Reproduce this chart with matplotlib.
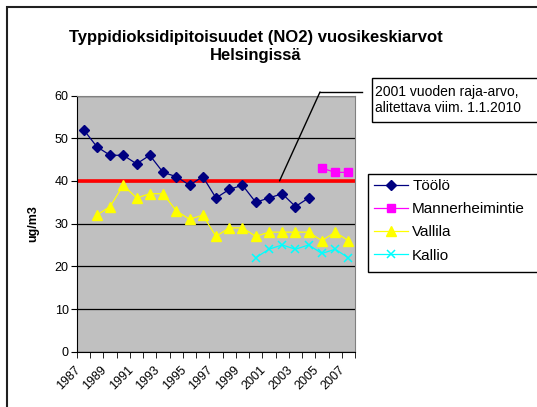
import numpy as np
import matplotlib
matplotlib.use('Agg')
import matplotlib.pyplot as plt
import matplotlib.transforms as mtransforms
from matplotlib.patches import Rectangle
from matplotlib.lines import Line2D

plt.rcParams['font.family'] = ['Liberation Sans', 'DejaVu Sans']

# --- data ---
years = list(range(1987, 2008))
toolo = [52, 48, 46, 46, 44, 46, 42, 41, 39, 41, 36, 38, 39, 35, 36, 37, 34, 36,
         np.nan, np.nan, np.nan]
mannerheimintie = [np.nan] * 18 + [43, 42, 42]
vallila = [np.nan, 32, 34, 39, 36, 37, 37, 33, 31, 32, 27, 29, 29, 27, 28, 28, 28,
           28, 26, 28, 26]
kallio = [np.nan] * 13 + [22, 24, 25, 24, 25, 23, 24, 22]
limit_value = 40
limit_note = "2001 vuoden raja-arvo,\nalitettava viim. 1.1.2010"

W, H = 537, 407
fig = plt.figure(figsize=(W / 100, H / 100), dpi=100)


def fx(px):
    return px / W


def fy(py):
    return 1 - py / H


ax = fig.add_axes([fx(77), fy(351.7), fx(355) - fx(77), fy(95.5) - fy(351.7)])
ax.set_facecolor('#C0C0C0')

x = np.arange(len(years))
ax.plot(x, toolo, color='#000080', marker='D', ms=5.5, lw=0.9, label='Töölö')
ax.plot(x, mannerheimintie, color='#FF00FF', marker='s', ms=5.5, lw=0.9,
        label='Mannerheimintie')
ax.plot(x, vallila, color='#FFFF00', marker='^', ms=7, lw=0.9, label='Vallila')
ax.plot(x, kallio, color='#00FFFF', marker='x', ms=6, mew=1.1, lw=0.9, label='Kallio')
ax.axhline(limit_value, color='#FF0000', lw=2.6, zorder=1.5)

ax.set_xlim(-0.5, len(years) - 0.5)
ax.set_ylim(0, 60)
ax.set_yticks(range(0, 61, 10))
ax.yaxis.grid(True, color='black', lw=0.9)
ax.set_axisbelow(True)
ax.tick_params(axis='y', direction='out', length=4, labelsize=9, pad=2)

ax.set_xticks(x[::2])
ax.set_xticklabels([str(y) for y in years[::2]], rotation=45, ha='right', va='center',
                   rotation_mode='anchor', fontsize=9)
ax.set_xticks(np.arange(-0.5, len(years)), minor=True)
ax.tick_params(axis='x', which='major', length=0, pad=12)
ax.tick_params(axis='x', which='minor', direction='out', length=4)
shift = mtransforms.ScaledTranslation(-5 / 100, 0, fig.dpi_scale_trans)
for lab in ax.get_xticklabels():
    lab.set_transform(lab.get_transform() + shift)

for side in ['top', 'right']:
    ax.spines[side].set_color('#808080')
for side in ['left', 'bottom']:
    ax.spines[side].set_color('black')

ax.set_ylabel('ug/m3', fontsize=9, fontweight='bold', labelpad=11)

# title
fig.text(fx(256), fy(30), "Typpidioksidipitoisuudet (NO2) vuosikeskiarvot\nHelsingissä",
         ha='center', va='top', fontsize=12, fontweight='bold', linespacing=1.25)

# note box with leader line
ax.annotate('', xy=(14.8, limit_value), xycoords='data',
            xytext=(fx(320), fy(92)), textcoords='figure fraction',
            arrowprops=dict(arrowstyle='-', color='black', lw=1,
                            shrinkA=0, shrinkB=0), annotation_clip=False)
fig.add_artist(Line2D([fx(320), fx(362)], [fy(92), fy(92)], color='black', lw=1,
                      transform=fig.transFigure))
fig.add_artist(Rectangle((fx(372), fy(122)), fx(200), fy(78) - fy(122),
                         transform=fig.transFigure, fill=True, facecolor='white',
                         edgecolor='black', lw=1))
fig.text(fx(375), fy(100), limit_note, ha='left', va='center', fontsize=10,
         linespacing=1.1)

# legend
fig.add_artist(Rectangle((fx(368), fy(272)), fx(200), fy(174) - fy(272),
                         transform=fig.transFigure, fill=True, facecolor='white',
                         edgecolor='black', lw=1))
fig.legend(loc='upper left', bbox_to_anchor=(fx(374), fy(179)), frameon=False,
           fontsize=11, handlelength=2.2, handletextpad=0.3, labelspacing=0.6,
           borderpad=0, borderaxespad=0)

# outer chart border
fig.add_artist(Rectangle((fx(7), -0.1), 1.2, fy(7) + 0.1, transform=fig.transFigure,
                         fill=False, edgecolor='#202020', lw=1.5))

fig.savefig('out.png', dpi=100)
